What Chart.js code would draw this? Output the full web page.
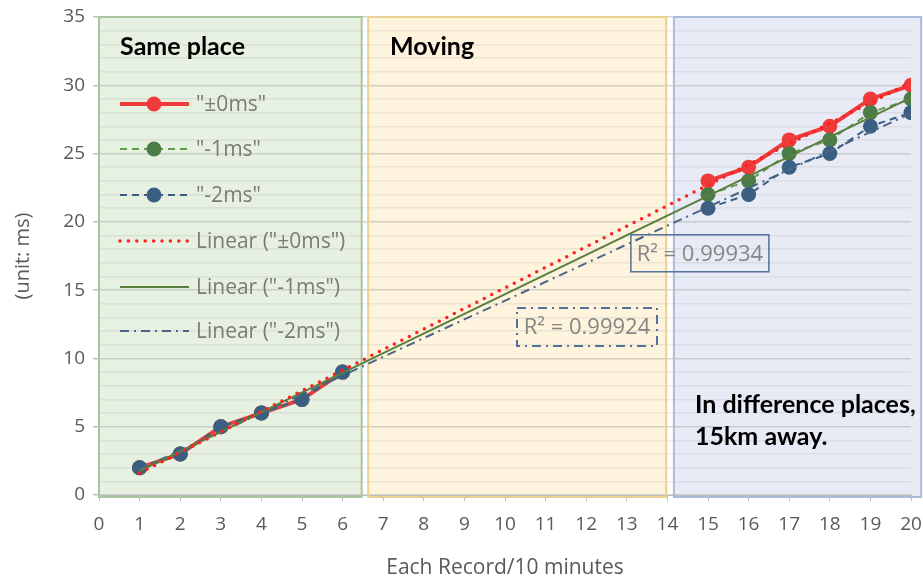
<!DOCTYPE html>
<html>
<head>
<meta charset="utf-8">
<script src="https://cdn.jsdelivr.net/npm/chart.js@4.4.1/dist/chart.umd.min.js"></script>
<style>
html,body{margin:0;padding:0;background:#fff;}
#wrap{width:923px;height:581px;position:relative;}
</style>
</head>
<body>
<div id="wrap"><canvas id="c" width="923" height="581"></canvas></div>
<script>
// ---- data ----
const records = [1,2,3,4,5,6,7,8,9,10,11,12,13,14,15,16,17,18,19,20];
const plus0ms  = [2,3,5,6,7,9,null,null,null,null,null,null,null,null,23,24,26,27,29,30];
const minus1ms = [2,3,5,6,7,9,null,null,null,null,null,null,null,null,22,23,25,26,28,29];
const minus2ms = [2,3,5,6,7,9,null,null,null,null,null,null,null,null,21,22,24,25,27,28];
const seriesNames = ['"±0ms"', '"-1ms"', '"-2ms"', 'Linear ("±0ms")', 'Linear ("-1ms")', 'Linear ("-2ms")'];
const r2Labels = ['R² = 0.99934', 'R² = 0.99924'];
const regionLabels = ['Same place', 'Moving', 'In difference places,', '15km away.'];
const yTicks = [0,5,10,15,20,25,30,35];

function pts(vals){ return records.map((x,i)=>({x:x,y:vals[i]})); }
// Linear trendline (least squares over the plotted points), as Excel draws it
function trend(vals){
  const xs=[], ys=[];
  records.forEach((x,i)=>{ if(vals[i]!==null){xs.push(x);ys.push(vals[i]);} });
  const n=xs.length, mx=xs.reduce((a,b)=>a+b)/n, my=ys.reduce((a,b)=>a+b)/n;
  let sxy=0,sxx=0; xs.forEach((x,i)=>{sxy+=(x-mx)*(ys[i]-my); sxx+=(x-mx)*(x-mx);});
  const b=sxy/sxx, a=my-b*mx;
  const x0=Math.min(...xs), x1=Math.max(...xs);
  return [{x:x0,y:a+b*x0},{x:x1,y:a+b*x1}];
}

const RED='#ef3b3b', GREEN='#4b7b46', GREENL='#5f9a4c', BLUE='#3b5f83';
const GREY='#7a7a7a';

const regions = [
  {x0:0, x1:6.47, fill:'#e7f1e1', stroke:'#a9c6a0'},
  {x0:6.63, x1:13.97, fill:'#fef4de', stroke:'#ead091'},
  {x0:14.16, x1:20.25, fill:'#e8ebf5', stroke:'#a9bcd8'}
];

const bgPlugin = {
  id:'bg',
  beforeDraw(chart){
    const {ctx, scales:{x,y}} = chart;
    ctx.save();
    regions.forEach(r=>{
      const L=x.getPixelForValue(r.x0), R=x.getPixelForValue(r.x1);
      const T=y.getPixelForValue(35), B=y.getPixelForValue(0)+2;
      ctx.fillStyle=r.fill; ctx.fillRect(L,T,R-L,B-T);
    });
    ctx.restore();
  },
  beforeDatasetsDraw(chart){
    const {ctx, scales:{x,y}} = chart;
    ctx.save();
    regions.forEach(r=>{
      const L=x.getPixelForValue(r.x0), R=x.getPixelForValue(r.x1);
      const T=y.getPixelForValue(35), B=y.getPixelForValue(0)+2;
      ctx.strokeStyle=r.stroke; ctx.lineWidth=2; ctx.strokeRect(L,T,R-L,B-T);
    });
    // region labels
    ctx.fillStyle='#000';
    ctx.font='bold 25px Lato, "Open Sans", sans-serif';
    ctx.textBaseline='middle'; ctx.textAlign='left';
    ctx.fillText(regionLabels[0], x.getPixelForValue(0.52), 47);
    ctx.fillText(regionLabels[1], x.getPixelForValue(7.17), 47);
    ctx.fillText(regionLabels[2], x.getPixelForValue(14.68), 405);
    ctx.fillText(regionLabels[3], x.getPixelForValue(14.68), 437);
    ctx.restore();
  },
  afterDraw(chart){
    const {ctx, scales:{x,y}} = chart;
    ctx.save();
    // R² boxes
    ctx.font='22px "Open Sans", sans-serif';
    ctx.textBaseline='middle'; ctx.textAlign='center';
    // box 1 (solid)
    let cx=x.getPixelForValue(14.8), cy=y.getPixelForValue(17.7);
    ctx.strokeStyle='#53709a'; ctx.lineWidth=1.5; ctx.setLineDash([]);
    ctx.strokeRect(cx-69, cy-18.5, 138, 37);
    ctx.fillStyle='#858585'; ctx.fillText(r2Labels[0], cx, cy+1);
    // box 2 (dash-dot)
    cx=x.getPixelForValue(12.02); cy=y.getPixelForValue(12.3);
    ctx.strokeStyle='#53709a'; ctx.lineWidth=2; ctx.setLineDash([9,5,2,5]);
    ctx.strokeRect(cx-70, cy-19, 140, 38);
    ctx.setLineDash([]);
    ctx.fillStyle='#858585'; ctx.fillText(r2Labels[1], cx, cy+1);

    // legend
    const rows=[104,149,195,241,287,331];
    const styles=[
      {c:RED,w:4,dash:[],marker:RED,cap:'butt'},
      {c:GREENL,w:2,dash:[7,5],marker:GREEN,cap:'butt'},
      {c:BLUE,w:2,dash:[7,5],marker:BLUE,cap:'butt'},
      {c:'#ff2020',w:3.5,dash:[0,8.4],marker:null,cap:'round'},
      {c:'#5b7f3d',w:2,dash:[],marker:null,cap:'butt'},
      {c:'#4a6587',w:2,dash:[9,5,2,5],marker:null,cap:'butt'}
    ];
    ctx.textAlign='left';
    ctx.font='21px "Open Sans", sans-serif';
    rows.forEach((ry,i)=>{
      const s=styles[i];
      ctx.beginPath(); ctx.setLineDash(s.dash); ctx.lineCap=s.cap;
      ctx.strokeStyle=s.c; ctx.lineWidth=s.w;
      ctx.moveTo(120,ry); ctx.lineTo(189,ry); ctx.stroke();
      ctx.setLineDash([]); ctx.lineCap='butt';
      if(s.marker){ ctx.beginPath(); ctx.fillStyle=s.marker; ctx.arc(154,ry,7.5,0,Math.PI*2); ctx.fill(); }
      ctx.fillStyle=GREY; ctx.fillText(seriesNames[i], 196, ry+1);
    });
    ctx.restore();
  }
};

new Chart(document.getElementById('c'), {
  type:'line',
  data:{
    datasets:[
      {label:seriesNames[3], data:trend(plus0ms), borderColor:'#ff2020', borderWidth:3.5, borderDash:[0,8.4], borderCapStyle:'round', pointRadius:0, order:0},
      {label:seriesNames[4], data:trend(minus1ms), borderColor:'#5b7f3d', borderWidth:2, pointRadius:0, order:1},
      {label:seriesNames[5], data:trend(minus2ms), borderColor:'#4a6587', borderWidth:2, borderDash:[9,5,2,5], pointRadius:0, order:2},
      {label:seriesNames[2], data:pts(minus2ms), borderColor:BLUE, borderWidth:2, borderDash:[7,5], pointRadius:7.5, pointBackgroundColor:BLUE, pointBorderWidth:0, spanGaps:false, order:3},
      {label:seriesNames[1], data:pts(minus1ms), borderColor:GREENL, borderWidth:2, borderDash:[7,5], pointRadius:7.5, pointBackgroundColor:GREEN, pointBorderWidth:0, spanGaps:false, order:4},
      {label:seriesNames[0], data:pts(plus0ms), borderColor:RED, borderWidth:4, pointRadius:7.5, pointBackgroundColor:RED, pointBorderWidth:0, spanGaps:false, order:5}
    ]
  },
  options:{
    responsive:false, animation:false,
    layout:{padding:{left:0,right:12,top:17,bottom:0}},
    plugins:{legend:{display:false}, tooltip:{enabled:false}},
    elements:{line:{tension:0}},
    scales:{
      x:{type:'linear', min:0, max:20,
        afterFit(s){ s.height=86; s.paddingLeft=0; s.paddingRight=0; },
        ticks:{stepSize:1, color:'#595959', padding:12, maxRotation:0, autoSkip:false,
          font:{family:'"Liberation Sans Narrow", "Open Sans", sans-serif', size:19}},
        grid:{display:true, drawOnChartArea:false, drawTicks:true, tickLength:6, color:'#bfbfbf'},
        border:{color:'#bfbfbf', width:1},
        title:{display:true, text:'Each Record/10 minutes', color:'#595959', padding:{top:6,bottom:0},
          font:{family:'"Liberation Sans Narrow", "Open Sans", sans-serif', size:21}}
      },
      y:{type:'linear', min:0, max:35,
        afterFit(s){ s.width=99; s.paddingTop=0; s.paddingBottom=0; },
        afterBuildTicks(s){ s.ticks = Array.from({length:36},(_,i)=>({value:i})); },
        ticks:{autoSkip:false, color:'#595959', padding:8,
          callback:(v)=> yTicks.includes(v) ? String(v) : '',
          font:{family:'"Open Sans", sans-serif', size:19}},
        grid:{color:(c)=> (c.tick && c.tick.value%5===0) ? 'rgba(160,165,160,0.45)' : 'rgba(170,175,170,0.22)',
          tickColor:(c)=> (c.tick && c.tick.value%5===0) ? '#bfbfbf' : 'rgba(0,0,0,0)',
          tickLength:6, lineWidth:1.5},
        border:{color:'#bfbfbf'},
        title:{display:true, text:'(unit: ms)', color:'#595959', padding:{top:11,bottom:0},
          font:{family:'"Open Sans", sans-serif', size:20}}
      }
    }
  },
  plugins:[bgPlugin]
});
</script>
</body>
</html>
